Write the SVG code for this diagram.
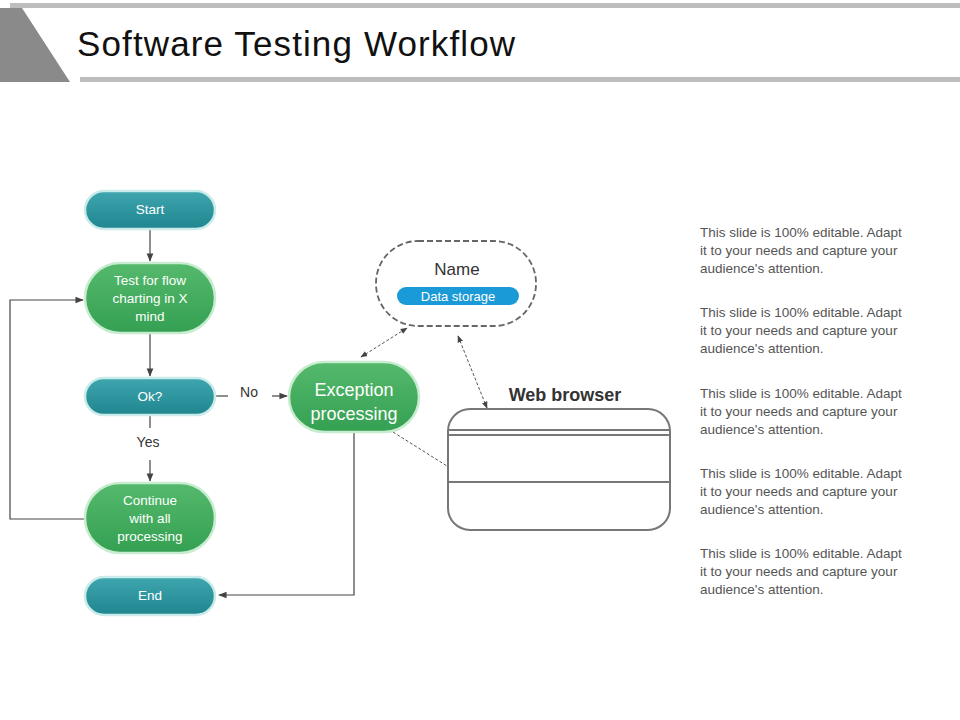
<svg xmlns="http://www.w3.org/2000/svg" width="960" height="720" viewBox="0 0 960 720">
<defs>
<linearGradient id="teal" x1="0" y1="0" x2="0" y2="1"><stop offset="0" stop-color="#3fa6b0"/><stop offset="1" stop-color="#1f8690"/></linearGradient>
<linearGradient id="green" x1="0" y1="0" x2="0" y2="1"><stop offset="0" stop-color="#55b96c"/><stop offset="1" stop-color="#34a052"/></linearGradient>
<marker id="ar" viewBox="0 0 10 10" refX="9" refY="5" markerWidth="7" markerHeight="7" orient="auto-start-reverse"><path d="M0,1 L10,5 L0,9 z" fill="#444"/></marker>
</defs>
<style>
.t{fill:url(#teal);stroke:#c9ecea;stroke-width:2.5}
.g{fill:url(#green);stroke:#c8ecd0;stroke-width:2.5}
.w{font-family:"Liberation Sans",Arial,sans-serif;fill:#fff;font-size:13.5px;text-anchor:middle}
.c{stroke:#444;stroke-width:1.2;fill:none}
.d{stroke:#555;stroke-width:1;fill:none;stroke-dasharray:3,2}
.p{font-family:"Liberation Sans",Arial,sans-serif;fill:#555;font-size:13.5px}
.l{font-family:"Liberation Sans",Arial,sans-serif;fill:#333;font-size:14px;text-anchor:middle}
</style>
<rect width="960" height="720" fill="#fff"/>
<g id="header">
<rect x="10" y="3" width="950" height="5" fill="#bdbdbd"/>
<rect x="80" y="77" width="880" height="5" fill="#bdbdbd"/>
<polygon points="0,8 22,8 70,82 0,82" fill="#8a8a8a"/>
<text x="77" y="56" font-family="Liberation Sans,Arial,sans-serif" font-size="35" fill="#111" textLength="438">Software Testing Workflow</text>
</g>
<g id="connectors">
<line class="c" x1="150" y1="229" x2="150" y2="261" marker-end="url(#ar)"/>
<line class="c" x1="150" y1="334" x2="150" y2="376" marker-end="url(#ar)"/>
<line class="c" x1="150" y1="416" x2="150" y2="428"/>
<line class="c" x1="150" y1="460" x2="150" y2="481" marker-end="url(#ar)"/>
<line class="c" x1="216" y1="396" x2="228" y2="396"/>
<line class="c" x1="272" y1="396" x2="287" y2="396" marker-end="url(#ar)"/>
<polyline class="c" points="85,519 10,519 10,300 83,300" marker-end="url(#ar)"/>
<polyline class="c" points="354,433 354,595 219,595" marker-end="url(#ar)"/>
<line class="d" x1="361" y1="357" x2="407" y2="328" marker-start="url(#ar)" marker-end="url(#ar)"/>
<line class="d" x1="458" y1="336" x2="487" y2="408" marker-start="url(#ar)" marker-end="url(#ar)"/>
<line class="d" x1="393" y1="432" x2="447" y2="466"/>
<text class="l" x="249" y="397">No</text>
<text class="l" x="148" y="447">Yes</text>
</g>
<g id="start"><rect class="t" x="85" y="191" width="130" height="38" rx="19"/><text class="w" x="150" y="214">Start</text></g>
<g id="test"><rect class="g" x="85" y="263" width="130" height="70" rx="35"/><text class="w" x="150" y="285">Test for flow</text><text class="w" x="150" y="303">charting in X</text><text class="w" x="150" y="321">mind</text></g>
<g id="ok"><rect class="t" x="85" y="378" width="130" height="37" rx="18.5"/><text class="w" x="150" y="401">Ok?</text></g>
<g id="continue"><rect class="g" x="85" y="483" width="130" height="70" rx="35"/><text class="w" x="150" y="505">Continue</text><text class="w" x="150" y="523">with all</text><text class="w" x="150" y="541">processing</text></g>
<g id="end"><rect class="t" x="85" y="577" width="130" height="38" rx="19"/><text class="w" x="150" y="600">End</text></g>
<g id="exception"><rect class="g" x="289" y="362" width="130" height="70" rx="35"/><text class="w" x="354" y="396" style="font-size:18px">Exception</text><text class="w" x="354" y="420" style="font-size:18px">processing</text></g>
<g id="datastore">
<rect x="376" y="241" width="160" height="85" rx="42" fill="#fff" stroke="#666" stroke-width="1.8" stroke-dasharray="6,3"/>
<text class="l" x="457" y="275" style="font-size:17px">Name</text>
<rect x="397" y="287" width="122" height="18" rx="9" fill="#1a9ad6"/>
<text class="w" x="458" y="301" style="font-size:13px">Data storage</text>
</g>
<g id="browser">
<text x="565" y="401" font-family="Liberation Sans,Arial,sans-serif" font-size="18" font-weight="bold" fill="#333" text-anchor="middle">Web browser</text>
<rect x="448" y="409" width="222" height="121" rx="22" fill="#fff" stroke="#777" stroke-width="2"/>
<line x1="448" y1="430" x2="670" y2="430" stroke="#777" stroke-width="2"/>
<line x1="448" y1="435" x2="670" y2="435" stroke="#777" stroke-width="2"/>
<line x1="448" y1="482" x2="670" y2="482" stroke="#777" stroke-width="2"/>
</g>
<g id="notes">
<text class="p" x="700" y="237">This slide is 100% editable. Adapt</text><text class="p" x="700" y="255">it to your needs and capture your</text><text class="p" x="700" y="273">audience's attention.</text>
<text class="p" x="700" y="317">This slide is 100% editable. Adapt</text><text class="p" x="700" y="335">it to your needs and capture your</text><text class="p" x="700" y="353">audience's attention.</text>
<text class="p" x="700" y="398">This slide is 100% editable. Adapt</text><text class="p" x="700" y="416">it to your needs and capture your</text><text class="p" x="700" y="434">audience's attention.</text>
<text class="p" x="700" y="478">This slide is 100% editable. Adapt</text><text class="p" x="700" y="496">it to your needs and capture your</text><text class="p" x="700" y="514">audience's attention.</text>
<text class="p" x="700" y="558">This slide is 100% editable. Adapt</text><text class="p" x="700" y="576">it to your needs and capture your</text><text class="p" x="700" y="594">audience's attention.</text>
</g>
</svg>
